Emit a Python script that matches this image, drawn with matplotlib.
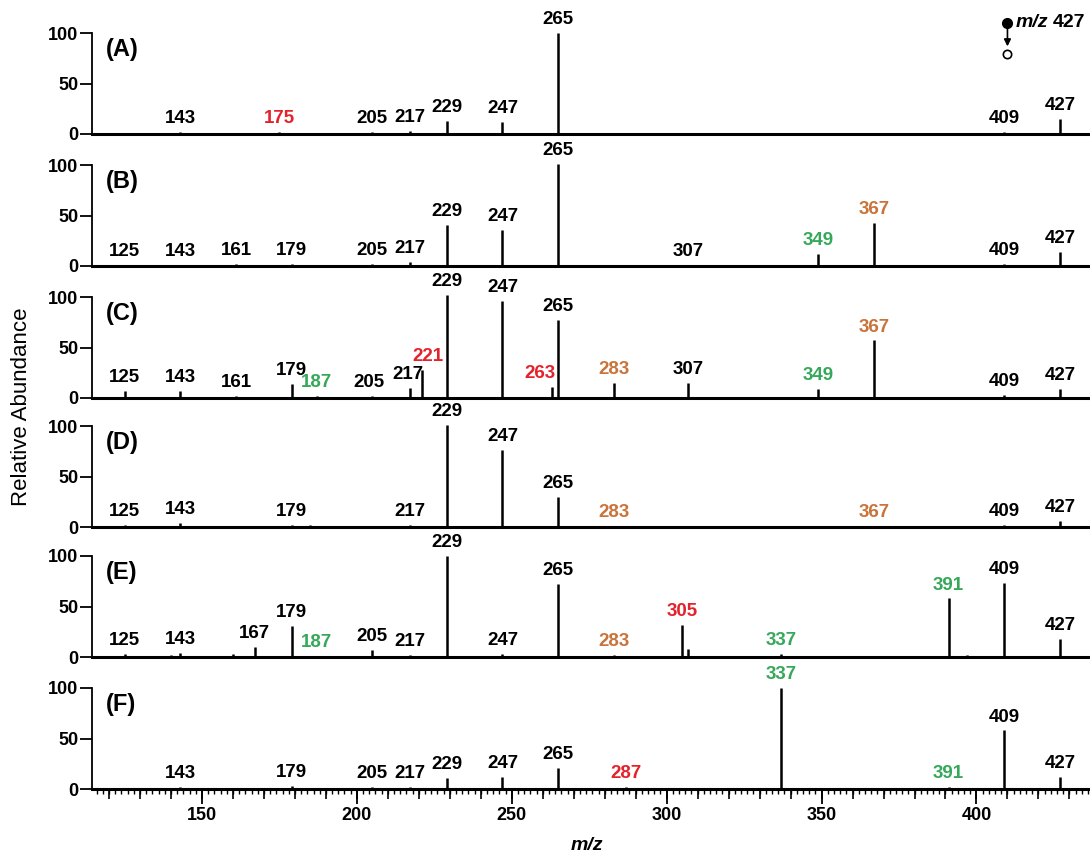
import matplotlib
matplotlib.use('Agg')
import matplotlib.pyplot as plt
from matplotlib.ticker import MultipleLocator

plt.rcParams['font.family'] = ['Liberation Sans', 'DejaVu Sans']

# peak lists per panel: m/z, relative abundance, label colour ('' = no label)
mz_A = [143, 175, 205, 217, 229, 247, 265, 409, 427]
int_A = [2, 2, 2, 3, 13, 12, 100, 2, 15]
lab_A = ['k', 'r', 'k', 'k', 'k', 'k', 'k', 'k', 'k']

mz_B = [125, 143, 161, 179, 205, 217, 229, 247, 265, 307, 349, 367, 409, 427]
int_B = [1, 1, 2, 2, 2, 4, 41, 36, 101, 1, 12, 43, 2, 14]
lab_B = ['k', 'k', 'k', 'k', 'k', 'k', 'k', 'k', 'k', 'k', 'g', 'o', 'k', 'k']

mz_C = [125, 143, 161, 179, 187, 205, 217, 221, 229, 247, 263, 265, 283, 307, 349, 367, 409, 427]
int_C = [7, 7, 2, 14, 2, 2, 10, 28, 102, 96, 11, 77, 15, 15, 9, 57, 3, 9]
lab_C = ['k', 'k', 'k', 'k', 'g', 'k', 'k', 'r', 'k', 'k', 'r', 'k', 'o', 'k', 'g', 'o', 'k', 'k']

mz_D = [125, 143, 161, 179, 185, 217, 229, 247, 265, 283, 367, 409, 427]
int_D = [2, 4, 1, 2, 2, 2, 101, 76, 30, 1, 1, 2, 6]
lab_D = ['k', 'k', '', 'k', '', 'k', 'k', 'k', 'k', 'o', 'o', 'k', 'k']

mz_E = [125, 131, 140, 143, 149, 160, 167, 176, 179, 187, 205, 217, 229, 247, 265, 283,
        305, 307, 337, 391, 397, 409, 427]
int_E = [3, 1, 2, 4, 1, 3, 10, 1, 31, 1, 7, 2, 100, 3, 72, 2,
         32, 8, 3, 58, 2, 73, 18]
lab_E = ['k', '', '', 'k', '', '', 'k', '', 'k', 'g', 'k', 'k', 'k', 'k', 'k', 'o',
         'r', '', 'g', 'g', '', 'k', 'k']

mz_F = [143, 179, 205, 217, 229, 247, 265, 287, 337, 391, 409, 427]
int_F = [2, 3, 2, 2, 11, 12, 21, 2, 100, 2, 58, 12]
lab_F = ['k', 'k', 'k', 'k', 'k', 'k', 'k', 'r', 'g', 'g', 'k', 'k']

panels = ['A', 'B', 'C', 'D', 'E', 'F']
spectra = {'A': (mz_A, int_A, lab_A), 'B': (mz_B, int_B, lab_B), 'C': (mz_C, int_C, lab_C),
           'D': (mz_D, int_D, lab_D), 'E': (mz_E, int_E, lab_E), 'F': (mz_F, int_F, lab_F)}
precursor = 427

colors = {'k': 'black', 'r': '#e3222b', 'g': '#36a85a', 'o': '#c8743a'}
# small sideways shifts for crowded labels (m/z units)
nudge = {('C', 205): -1.0, ('C', 217): -0.5, ('C', 221): 2.0, ('C', 263): -4.0}

W, H = 1090, 857
left_px, right_px = 92, 1088
baselines = [134, 266, 398, 527, 657, 789]
ytop = 125

fig = plt.figure(figsize=(W / 100, H / 100), dpi=100)

for i, p in enumerate(panels):
    mz, inten, lab = spectra[p]
    ax = fig.add_axes([left_px / W, 1 - baselines[i] / H, (right_px - left_px) / W, ytop * 1.01 / H])
    ax.patch.set_visible(False)
    ax.set_xlim(114.5, 436)
    ax.set_ylim(0, ytop)
    ax.vlines(mz, 0, inten, color='black', lw=1.8)
    for m, v, c in zip(mz, inten, lab):
        if not c:
            continue
        ax.annotate(str(m), (m + nudge.get((p, m), 0), v), xytext=(0, 3.5), textcoords='offset points',
                    ha='center', va='bottom', fontsize=13.5, fontweight='bold', color=colors[c])
    ax.text(0.014, 84, f'({p})', transform=ax.get_yaxis_transform(), fontsize=17,
            fontweight='bold', va='center', ha='left')

    ax.spines[['top', 'right']].set_visible(False)
    ax.spines['left'].set_bounds(0, 100)
    ax.spines['left'].set_linewidth(1.3)
    ax.spines['bottom'].set_linewidth(2.2)
    ax.set_yticks([0, 50, 100])
    ax.tick_params(axis='y', length=8.5, width=1.3, labelsize=13, pad=1.5)
    for t in ax.get_yticklabels():
        t.set_fontweight('bold')

    if p != 'F':
        ax.tick_params(axis='x', bottom=False, labelbottom=False)
    else:
        ax.xaxis.set_major_locator(MultipleLocator(50))
        ax.xaxis.set_minor_locator(MultipleLocator(2))
        ax.tick_params(axis='x', which='major', length=11, width=1.3, labelsize=13, pad=2)
        ax.tick_params(axis='x', which='minor', length=3.5, width=1.0)
        for t in ax.get_xticklabels():
            t.set_fontweight('bold')
        sec = ax.secondary_xaxis(0)
        sec.set_xticks(list(range(120, 440, 10)))
        sec.tick_params(length=7, width=1.2, labelbottom=False)
        sec.spines['bottom'].set_visible(False)

    if p == 'A':
        ax.plot([410], [110], 'o', ms=7, color='black', clip_on=False)
        ax.annotate('', xy=(410, 84), xytext=(410, 109),
                    arrowprops=dict(arrowstyle='-|>', color='black', lw=1.2, mutation_scale=10))
        ax.plot([410], [79], 'o', ms=6, mfc='white', mec='black', mew=1.2, clip_on=False)
        ax.text(412.5, 110, 'm/z', style='italic', fontweight='bold', fontsize=14, va='center', ha='left')
        ax.text(424.5, 110, str(precursor), fontweight='bold', fontsize=14, va='center', ha='left')

fig.text(22 / W, 1 - 407 / H, 'Relative Abundance', rotation=90, fontsize=16, ha='center', va='center')
fig.text(587 / W, 1 - 845 / H, 'm/z', style='italic', fontweight='bold', fontsize=14, ha='center', va='center')

fig.savefig('out.png', dpi=100)
